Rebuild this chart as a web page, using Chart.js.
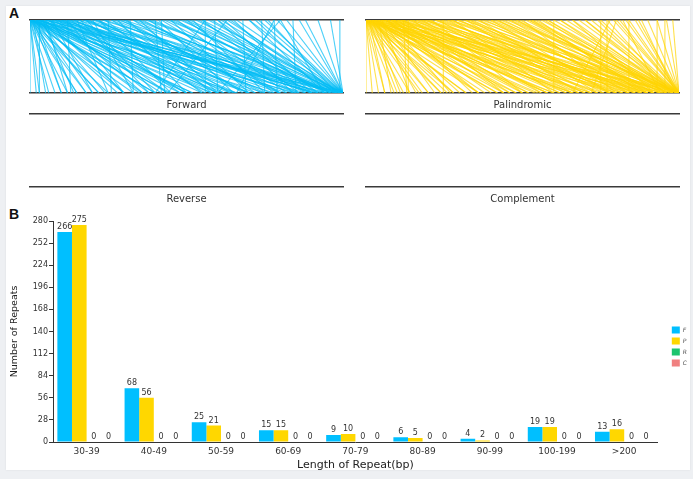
<!DOCTYPE html>
<html>
<head>
<meta charset="utf-8">
<script src="https://cdn.jsdelivr.net/npm/chart.js@4.4.0/dist/chart.umd.min.js"></script>
<style>
  html, body { margin: 0; padding: 0; }
  body { width: 693px; height: 479px; background: #eef0f3; position: relative; overflow: hidden; font-family: "DejaVu Sans", sans-serif; }
  .card { position: absolute; left: 6px; top: 6px; width: 684px; height: 464px; background: #fff; box-shadow: 0 0 2px rgba(0,0,0,0.08); }
  canvas { position: absolute; }
  .tag { position: absolute; font: bold 14px "Liberation Sans", sans-serif; color: #111; }
</style>
</head>
<body>
<div class="card"></div>
<div class="tag" style="left:9px;top:5px;">A</div>
<div class="tag" style="left:9px;top:206px;">B</div>
<canvas id="fwd" width="323" height="100" style="left:25px;top:14px;"></canvas>
<canvas id="pal" width="323" height="100" style="left:361px;top:14px;"></canvas>
<canvas id="rev" width="323" height="100" style="left:25px;top:108px;"></canvas>
<canvas id="comp" width="323" height="100" style="left:361px;top:108px;"></canvas>
<canvas id="bars" width="693" height="272" style="left:0px;top:205px;"></canvas>
<script>
// repeat links: [position on top line, position on bottom line], genome scaled 0-100
const forwardLinks = [
  [0,0],[0,3],[0,8],[0,12],[0,18],[0,25],[0,33],[0,45],[0,58],[0,75],[0,100],
  [1,5],[1,15],[1,22],[1,40],[1,62],[2,10],[2,28],[2,50],[2,85],[2,98],
  [3,3],[3,20],[3,35],[3,70],[4,14],[4,55],[5,30],[5,88],[5,95],
  [6,42],[7,20],[8,65],[8,99],[9,36],[10,50],[10,94],[11,80],[12,13],[12,30],
  [13,48],[14,72],[15,25],[15,100],[16,56],[17,90],[18,40],[18,97],[19,60],[20,33],
  [21,70],[22,45],[23,98],[24,55],[25,26],[26,64],[27,85],[28,50],[29,75],[30,100],
  [31,58],[32,33],[33,68],[34,92],[35,60],[36,80],[37,100],[38,72],[39,96],[40,42],
  [41,65],[42,43],[43,88],[44,100],[45,70],[46,95],[47,78],[48,100],[49,90],[50,82],
  [51,99],[52,75],[53,100],[54,94],[55,86],[56,56],[56,40],[57,100],[58,98],[59,60],
  [60,92],[61,100],[62,88],[63,99],[63,44],[64,96],[66,100],[68,69],[70,100],[72,97],
  [74,75],[75,100],[76,98],[78,79],[78,66],[79,100],[80,94],[80,60],[82,100],[84,85],
  [86,100],[88,100],[92,100],[96,100],[99,99],
  [3,52],[6,78],[9,84],[12,91],[14,66],[17,77],[20,86],[24,93],[28,99],[33,86],
  [0,2],[0,6],[0,15],[0,22],[0,40],[0,52],[0,66],[1,10],[1,30],[1,48],
  [2,18],[2,36],[3,60],[4,24],[4,44],[5,12],[5,64],[6,30],[7,50],[7,92],
  [8,38],[9,58],[10,70],[11,44],[12,60],[13,82],[16,38],[18,70],[21,90],[22,62],
  [26,80],[30,74],[35,90],[38,98],[42,80],[45,96],[50,96],[55,100],[60,84],[65,90],
  [70,94],[73,100]
];
const palindromicLinks = [
  [0,0],[0,4],[0,9],[0,14],[0,20],[0,28],[0,36],[0,48],[0,60],[0,72],[0,88],
  [1,6],[1,18],[1,32],[1,55],[1,80],[2,11],[2,24],[2,42],[2,66],[2,95],
  [3,16],[3,38],[3,58],[3,46],[4,8],[4,30],[4,76],[5,22],[5,50],[5,100],
  [6,40],[6,64],[6,58],[7,27],[7,84],[8,52],[8,98],[8,72],[9,34],[9,70],
  [10,46],[10,90],[11,58],[11,86],[12,13],[12,78],[13.5,13.5],[14,62],[14,92],[15,44],
  [15,70],[16,82],[17,68],[18,56],[18,100],[19,74],[19,84],[20,88],[21,50],[22,94],
  [23,66],[23,90],[24.7,24.7],[25,80],[26,72],[27,98],[27,88],[28,60],[29,86],[30,76],
  [31,100],[32,68],[33,92],[33,78],[34,82],[35,96],[36,74],[37,100],[38,88],[39,94],
  [40,78],[40,95],[41,100],[42,84],[43,97],[44,90],[45,100],[46,86],[46,100],[47,99],
  [48,92],[49,100],[50,80],[51,96],[52,100],[53,90],[53,100],[54,98],[55,88],[56,100],
  [57,94],[58,99],[60,60],[60,100],[62,96],[64,100],[66,92],[68,100],[70,98],[72,100],
  [75,75],[75,100],[77,77],[77,98],[78,66],[79,100],[80,72],[81,100],[82,94],[84,84],
  [84,100],[86,100],[88,99],[90,100],[93,93],[93,100],[95.5,95.5],[96,100],[98,100],
  [0,2],[0,6],[0,12],[0,17],[0,24],[0,32],[0,42],[0,54],[0,66],[1,10],
  [1,26],[1,44],[2,20],[2,52],[3,28],[3,68],[4,36],[4,60],[5,14],[5,82],
  [6,48],[7,36],[7,62],[8,44],[9,56],[10,66],[11,74],[12,50],[13,80],[16,64],
  [17,90],[20,70],[22,78],[24,86],[26,92],[29,96],[32,84],[36,90],[42,92],[48,98],
  [52,92],[58,96],[62,100],[66,98],[70,100],[74,98],[80,100],[83,100],[87,100]
];
const reverseLinks = [];
const complementLinks = [];

// panel B
const lengthBins = ['30-39','40-49','50-59','60-69','70-79','80-89','90-99','100-199','>200'];
const forwardCounts = [266, 68, 25, 15, 9, 6, 4, 19, 13];
const palindromicCounts = [275, 56, 21, 15, 10, 5, 2, 19, 16];
const reverseCounts = [0, 0, 0, 0, 0, 0, 0, 0, 0];
const complementCounts = [0, 0, 0, 0, 0, 0, 0, 0, 0];
const yTicks = [0, 28, 56, 84, 112, 140, 168, 196, 224, 252, 280];

Chart.defaults.font.family = '"DejaVu Sans", sans-serif';
Chart.defaults.color = '#333';
Chart.defaults.animation = false;

function linkChart(id, links, color, name) {
  const sets = links.map(l => ({
    data: [{x: l[0], y: 1}, {x: l[1], y: 0}],
    borderColor: color,
    borderWidth: 1.1,
    pointRadius: 0,
    showLine: true
  }));
  return new Chart(document.getElementById(id), {
    type: 'scatter',
    data: { datasets: sets },
    options: {
      responsive: false,
      layout: { padding: { left: 5, right: 5, top: 6, bottom: 0 } },
      plugins: { legend: { display: false }, tooltip: { enabled: false } },
      scales: {
        x: {
          type: 'linear', min: 0, max: 100, position: 'bottom',
          grid: { display: false }, ticks: { display: false },
          border: { display: true, color: '#3a3a3a', width: 1.5 },
          title: { display: true, text: name, font: { size: 10 }, color: '#333', padding: { top: 0, bottom: 3 } },
          afterFit: s => { s.height = 21; }
        },
        x2: {
          type: 'linear', min: 0, max: 100, position: 'top',
          grid: { display: false }, ticks: { display: false },
          border: { display: true, color: '#3a3a3a', width: 1.5 },
          afterFit: s => { s.height = 0; }
        },
        y: { min: 0, max: 1, display: false }
      }
    }
  });
}

linkChart('fwd', forwardLinks, 'rgba(0,188,245,0.7)', 'Forward');
linkChart('pal', palindromicLinks, 'rgba(255,212,0,0.7)', 'Palindromic');
linkChart('rev', reverseLinks, 'rgba(0,190,90,0.7)', 'Reverse');
linkChart('comp', complementLinks, 'rgba(240,128,128,0.7)', 'Complement');

const valueLabels = {
  id: 'valueLabels',
  afterDatasetsDraw(chart) {
    const ctx = chart.ctx;
    ctx.save();
    ctx.font = '8px "DejaVu Sans", sans-serif';
    ctx.fillStyle = '#333';
    ctx.textAlign = 'center';
    ctx.textBaseline = 'bottom';
    chart.data.datasets.forEach((ds, i) => {
      chart.getDatasetMeta(i).data.forEach((bar, j) => {
        ctx.fillText(String(ds.data[j]), bar.x, bar.y - 1);
      });
    });
    ctx.restore();
  }
};

// push the legend a little further right than the layout puts it
const legendShift = {
  id: 'legendShift',
  afterLayout(chart) {
    chart.legend.left += 10;
    chart.legend.right += 10;
  }
};

new Chart(document.getElementById('bars'), {
  type: 'bar',
  data: {
    labels: lengthBins,
    datasets: [
      { label: 'F', data: forwardCounts, backgroundColor: '#00bfff' },
      { label: 'P', data: palindromicCounts, backgroundColor: '#ffd700' },
      { label: 'R', data: reverseCounts, backgroundColor: '#1ec46e' },
      { label: 'C', data: complementCounts, backgroundColor: '#f08080' }
    ]
  },
  options: {
    responsive: false,
    datasets: { bar: { categoryPercentage: 0.87, barPercentage: 1.0 } },
    layout: { padding: { left: 9, right: 6, top: 16, bottom: 5 } },
    plugins: {
      tooltip: { enabled: false },
      legend: {
        position: 'right',
        labels: { boxWidth: 8, boxHeight: 7, padding: 4, font: { size: 6, style: 'italic' }, color: '#555' }
      }
    },
    scales: {
      x: {
        grid: { display: false, drawTicks: false },
        border: { display: true, color: '#333', width: 1 },
        ticks: { font: { size: 9 }, color: '#333', padding: 4, maxRotation: 0 },
        title: { display: true, text: 'Length of Repeat(bp)', font: { size: 11 }, color: '#222', padding: { top: 0, bottom: 0 } },
        afterFit: s => { s.height = 30; }
      },
      y: {
        min: 0, max: 280,
        afterBuildTicks: s => { s.ticks = yTicks.map(v => ({ value: v })); },
        grid: { display: true, drawOnChartArea: false, tickLength: 4, color: '#333' },
        border: { display: true, color: '#333', width: 1 },
        ticks: { font: { size: 8 }, color: '#333', padding: 1 },
        title: { display: true, text: 'Number of Repeats', font: { size: 9.5 }, color: '#222', padding: 0 },
        afterFit: s => { s.width = 44; }
      }
    }
  },
  plugins: [valueLabels, legendShift]
});
</script>
</body>
</html>
